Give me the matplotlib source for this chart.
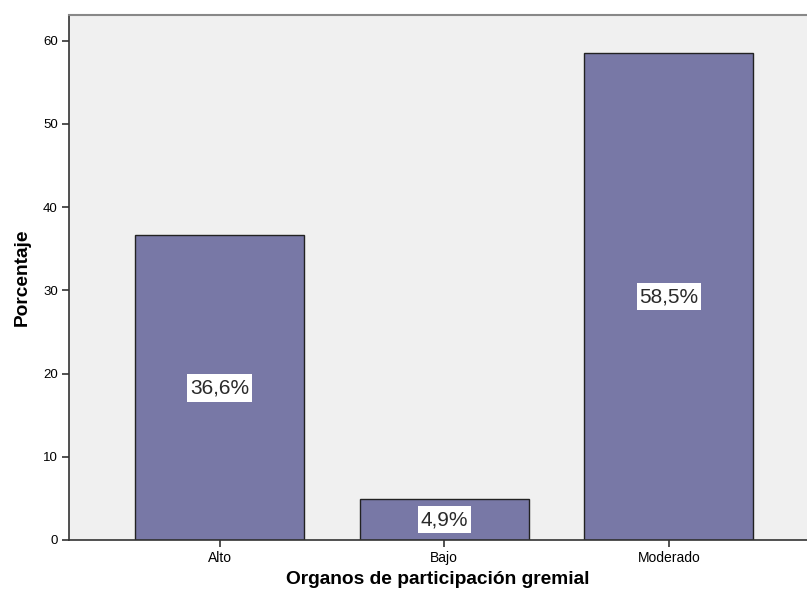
import matplotlib
matplotlib.use("Agg")
import matplotlib.pyplot as plt
import numpy as np

categorias = ["Alto", "Bajo", "Moderado"]
porcentajes = [36.6, 4.9, 58.5]
etiquetas = ["36,6%", "4,9%", "58,5%"]
yticks = [0, 10, 20, 30, 40, 50, 60]

plt.rcParams['font.family'] = ['Liberation Sans', 'DejaVu Sans']

fig = plt.figure(figsize=(8.07, 5.98), dpi=100)
ax = fig.add_axes([69/807, 1 - 540/598, 1 - 69/807, (540 - 15)/598])
ax.set_facecolor('#f0f0f0')

x = np.arange(len(categorias))
ax.bar(x, porcentajes, width=0.753, color='#7878a6', edgecolor='#222222', linewidth=1.0, zorder=2)

# etiqueta de porcentaje en el centro de cada barra
for xi, v, txt in zip(x, porcentajes, etiquetas):
    ax.text(xi, v / 2, txt, ha='center', va='center', fontsize=15, color='#2a2a2a', zorder=3,
            bbox=dict(boxstyle='square,pad=0.13', facecolor='white', edgecolor='none',
                      mutation_aspect=1.6))

ax.set_xlim(-0.67, 2.615)
ax.set_ylim(0, 63.1)
ax.set_xticks(x)
ax.set_xticklabels(categorias, fontsize=10)
ax.set_yticks(yticks)
ax.set_yticklabels([str(t) for t in yticks], fontsize=9.5)
ax.tick_params(axis='both', direction='out', length=5, width=1.2, color='#333333', pad=3)

ax.spines['right'].set_visible(False)
ax.spines['left'].set_color('#333333')
ax.spines['left'].set_linewidth(1.2)
ax.spines['bottom'].set_color('#333333')
ax.spines['bottom'].set_linewidth(1.2)
ax.spines['top'].set_color('#888888')
ax.spines['top'].set_linewidth(1.5)

ax.set_ylabel("Porcentaje", fontsize=13.8, fontweight='bold', labelpad=9)
ax.set_xlabel("Organos de participación gremial", fontsize=13.8, fontweight='bold', labelpad=4)

fig.savefig("out.png", dpi=100)
